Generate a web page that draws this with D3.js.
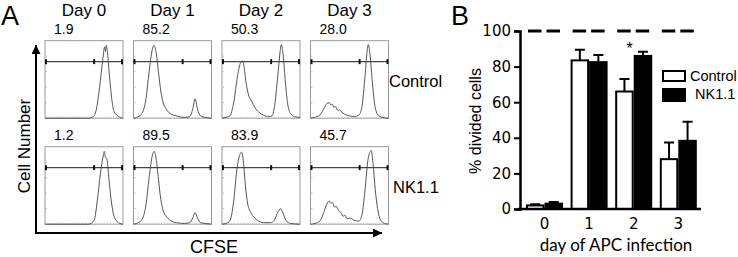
<!DOCTYPE html>
<html>
<head>
<meta charset="utf-8">
<script src="https://cdn.jsdelivr.net/npm/d3@7"></script>
<style>
  body { margin: 0; background: #fff; }
  svg { display: block; }
</style>
</head>
<body>
<div id="chart"></div>
<script>
// ---- panel A data: CFSE histograms, [x fraction, height fraction]
const dayLabels = ["Day 0", "Day 1", "Day 2", "Day 3"];
const groupLabels = ["Control", "NK1.1"];
const ctrlPct = ["1.9", "85.2", "50.3", "28.0"];
const nkPct = ["1.2", "89.5", "83.9", "45.7"];

const ctrlDay0 = [[0, 0], [0.55, 0], [0.62, 0.02], [0.66, 0.12], [0.70, 0.4], [0.74, 0.75], [0.765, 0.92], [0.775, 0.86], [0.785, 0.94], [0.80, 0.86], [0.82, 0.62], [0.85, 0.3], [0.88, 0.1], [0.92, 0.04], [0.96, 0.01], [1, 0]];
const ctrlDay1 = [[0, 0], [0.04, 0.01], [0.10, 0.05], [0.16, 0.25], [0.20, 0.6], [0.24, 0.88], [0.26, 0.94], [0.29, 0.85], [0.32, 0.6], [0.35, 0.35], [0.38, 0.2], [0.42, 0.12], [0.47, 0.06], [0.55, 0.03], [0.65, 0.01], [0.72, 0.02], [0.76, 0.12], [0.79, 0.25], [0.82, 0.12], [0.86, 0.03], [0.92, 0.01], [1, 0]];
const ctrlDay2 = [[0, 0], [0.05, 0.01], [0.10, 0.03], [0.15, 0.2], [0.20, 0.55], [0.24, 0.72], [0.26, 0.74], [0.28, 0.68], [0.31, 0.45], [0.34, 0.3], [0.38, 0.22], [0.42, 0.14], [0.47, 0.08], [0.53, 0.04], [0.60, 0.02], [0.64, 0.03], [0.68, 0.2], [0.72, 0.6], [0.75, 0.9], [0.76, 0.95], [0.78, 0.85], [0.81, 0.5], [0.84, 0.2], [0.88, 0.06], [0.93, 0.02], [1, 0.01]];
const ctrlDay3 = [[0, 0], [0.05, 0.01], [0.12, 0.04], [0.17, 0.12], [0.21, 0.19], [0.24, 0.2], [0.26, 0.17], [0.28, 0.18], [0.30, 0.14], [0.32, 0.15], [0.35, 0.1], [0.37, 0.11], [0.40, 0.08], [0.44, 0.05], [0.50, 0.03], [0.56, 0.02], [0.62, 0.04], [0.66, 0.15], [0.70, 0.55], [0.73, 0.9], [0.74, 0.95], [0.76, 0.85], [0.79, 0.5], [0.82, 0.2], [0.86, 0.05], [0.92, 0.01], [1, 0]];
const nkDay0 = [[0, 0], [0.56, 0], [0.63, 0.05], [0.67, 0.3], [0.71, 0.65], [0.75, 0.9], [0.76, 0.94], [0.775, 0.86], [0.79, 0.85], [0.80, 0.8], [0.82, 0.58], [0.85, 0.3], [0.88, 0.12], [0.92, 0.04], [0.96, 0.01], [1, 0]];
const nkDay1 = [[0, 0], [0.04, 0.01], [0.10, 0.05], [0.16, 0.25], [0.20, 0.6], [0.245, 0.9], [0.265, 0.94], [0.29, 0.85], [0.32, 0.58], [0.35, 0.32], [0.38, 0.18], [0.42, 0.1], [0.47, 0.05], [0.55, 0.02], [0.65, 0.01], [0.72, 0.02], [0.76, 0.08], [0.79, 0.15], [0.82, 0.08], [0.86, 0.02], [0.92, 0.01], [1, 0]];
const nkDay2 = [[0, 0], [0.05, 0.01], [0.10, 0.04], [0.15, 0.3], [0.19, 0.7], [0.23, 0.9], [0.25, 0.93], [0.27, 0.85], [0.30, 0.5], [0.33, 0.26], [0.37, 0.15], [0.42, 0.08], [0.47, 0.04], [0.55, 0.02], [0.62, 0.02], [0.67, 0.05], [0.71, 0.14], [0.75, 0.2], [0.78, 0.15], [0.82, 0.05], [0.88, 0.01], [1, 0]];
const nkDay3 = [[0, 0], [0.06, 0.01], [0.12, 0.04], [0.17, 0.15], [0.21, 0.26], [0.24, 0.3], [0.26, 0.27], [0.28, 0.28], [0.31, 0.22], [0.33, 0.23], [0.36, 0.18], [0.39, 0.15], [0.42, 0.1], [0.44, 0.12], [0.47, 0.07], [0.51, 0.08], [0.56, 0.05], [0.62, 0.04], [0.66, 0.12], [0.70, 0.45], [0.74, 0.85], [0.78, 0.95], [0.80, 0.8], [0.83, 0.45], [0.86, 0.2], [0.89, 0.07], [0.93, 0.02], [1, 0]];
const gateSplit = 0.63;   // middle gate tick
const gateLevel = 0.73;   // gate bar height

// ---- panel B data
const days = ["0", "1", "2", "3"];
const controlMean = [2, 83.5, 66, 28];
const controlErr = [0.6, 6, 7, 9.3];
const nkMean = [3, 82.5, 86, 38.3];
const nkErr = [1, 4, 2.3, 10.7];
const yTicks = [0, 20, 40, 60, 80, 100];
const refLevel = 100;

const W = 738, H = 257;
const svg = d3.select("#chart").append("svg")
  .attr("width", W).attr("height", H)
  .style("background", "#fff");

const sans = "'Liberation Sans', Arial, sans-serif";

// ================= PANEL A =================
svg.append("text").attr("x", 1).attr("y", 25)
  .style("font-family", sans).style("font-size", "27px").text("A");

const boxW = 78, boxH = 77.5;
const colX = d3.scaleBand().domain(dayLabels).range([45, 390.4]).paddingInner(0.097).paddingOuter(0);
const rowY = { "Control": 40.7, "NK1.1": 146.7 };
const histData = {
  "Control": [ctrlDay0, ctrlDay1, ctrlDay2, ctrlDay3],
  "NK1.1": [nkDay0, nkDay1, nkDay2, nkDay3]
};
const pctData = { "Control": ctrlPct, "NK1.1": nkPct };

// day titles
svg.selectAll(".dayTitle").data(dayLabels).enter().append("text")
  .attr("x", d => colX(d) + boxW / 2)
  .attr("y", 16)
  .attr("text-anchor", "middle")
  .style("font-family", sans).style("font-size", "17px")
  .text(d => d);

groupLabels.forEach(g => {
  dayLabels.forEach((day, i) => {
    const bx = colX(day), by = rowY[g];
    const x = d3.scaleLinear().domain([0, 1]).range([bx, bx + boxW]);
    const y = d3.scaleLinear().domain([0, 1]).range([by + boxH, by]);
    const cell = svg.append("g");

    // frame
    cell.append("rect")
      .attr("x", bx).attr("y", by).attr("width", boxW).attr("height", boxH)
      .attr("fill", "none").attr("stroke", "#9a9a9a").attr("stroke-width", 1);

    // faint minor ticks on left and bottom
    cell.selectAll(".ly").data([0.2, 0.4, 0.6, 0.8]).enter().append("line")
      .attr("x1", bx).attr("x2", bx + 2)
      .attr("y1", d => y(d)).attr("y2", d => y(d))
      .attr("stroke", "#bbb");
    cell.selectAll(".lx").data(d3.range(0.04, 1, 0.04)).enter().append("line")
      .attr("y1", by + boxH).attr("y2", by + boxH - 1.5)
      .attr("x1", d => x(d)).attr("x2", d => x(d))
      .attr("stroke", "#ccc");

    // histogram
    cell.append("path")
      .datum(histData[g][i])
      .attr("d", d3.line().x(d => x(d[0])).y(d => y(d[1])).curve(d3.curveMonotoneX))
      .attr("fill", "none").attr("stroke", "#555").attr("stroke-width", 1);

    // gate
    cell.append("line")
      .attr("x1", x(0)).attr("x2", x(1))
      .attr("y1", y(gateLevel)).attr("y2", y(gateLevel))
      .attr("stroke", "#444").attr("stroke-width", 1.2);
    cell.selectAll(".gt").data([0, gateSplit, 1]).enter().append("line")
      .attr("x1", d => x(d) + (d === 0 ? 1 : d === 1 ? -1 : 0))
      .attr("x2", d => x(d) + (d === 0 ? 1 : d === 1 ? -1 : 0))
      .attr("y1", y(gateLevel) - 2.5).attr("y2", y(gateLevel) + 2.5)
      .attr("stroke", "#111").attr("stroke-width", 2);

    // percent divided
    cell.append("text")
      .attr("x", bx + 9).attr("y", by - 6.5)
      .style("font-family", sans).style("font-size", "14px")
      .text(pctData[g][i]);
  });

  svg.append("text")
    .attr("x", g === "Control" ? 389 : 393)
    .attr("y", rowY[g] + 46)
    .style("font-family", sans).style("font-size", "16.5px")
    .text(g);
});

// axis arrows
const defs = svg.append("defs");
defs.append("marker").attr("id", "arrow")
  .attr("viewBox", "0 0 10 10").attr("refX", 10).attr("refY", 5)
  .attr("markerWidth", 5).attr("markerHeight", 4.5)
  .attr("markerUnits", "strokeWidth").attr("orient", "auto")
  .append("path").attr("d", "M0,0L10,5L0,10Z").attr("fill", "#000");

svg.append("line")
  .attr("x1", 36).attr("y1", 233).attr("x2", 36).attr("y2", 45)
  .attr("stroke", "#000").attr("stroke-width", 2).attr("marker-end", "url(#arrow)");
svg.append("line")
  .attr("x1", 35).attr("y1", 233).attr("x2", 382).attr("y2", 233)
  .attr("stroke", "#000").attr("stroke-width", 2).attr("marker-end", "url(#arrow)");

svg.append("text")
  .attr("transform", "translate(30,146) rotate(-90)")
  .attr("text-anchor", "middle")
  .style("font-family", sans).style("font-size", "17px")
  .text("Cell Number");
svg.append("text")
  .attr("x", 214).attr("y", 253)
  .attr("text-anchor", "middle")
  .style("font-family", sans).style("font-size", "18px")
  .text("CFSE");

// ================= PANEL B =================
svg.append("text").attr("x", 451).attr("y", 25)
  .style("font-family", sans).style("font-size", "27px").text("B");

const y = d3.scaleLinear().domain([0, 100]).range([209, 31]);
const x0 = d3.scaleBand().domain(days).range([522.2, 700.6]).paddingInner(0.17).paddingOuter(0.085);
const x1 = d3.scaleBand().domain(groupLabels).range([0, x0.bandwidth()]);

const bars = [];
days.forEach((d, i) => {
  bars.push({ day: d, group: "Control", v: controlMean[i], e: controlErr[i] });
  bars.push({ day: d, group: "NK1.1", v: nkMean[i], e: nkErr[i] });
});

// dashed 100% reference
svg.selectAll(".ref").data(bars).enter().append("line")
  .attr("x1", d => x0(d.day) + x1(d.group) + 2)
  .attr("x2", d => x0(d.day) + x1(d.group) + x1.bandwidth() - 3)
  .attr("y1", y(refLevel)).attr("y2", y(refLevel))
  .attr("stroke", "#000").attr("stroke-width", 3);

// error bars (upper only)
svg.selectAll(".err").data(bars).enter().append("path")
  .attr("d", d => {
    const cx = x0(d.day) + x1(d.group) + x1.bandwidth() / 2;
    return `M${cx},${y(d.v)}V${y(d.v + d.e)}M${cx - 5},${y(d.v + d.e)}H${cx + 5}`;
  })
  .attr("fill", "none").attr("stroke", "#000").attr("stroke-width", 2);

svg.selectAll(".bar").data(bars).enter().append("rect")
  .attr("x", d => x0(d.day) + x1(d.group) + 1)
  .attr("y", d => y(d.v))
  .attr("width", x1.bandwidth() - 2)
  .attr("height", d => y(0) - y(d.v))
  .attr("fill", d => d.group === "Control" ? "#fff" : "#000")
  .attr("stroke", "#000").attr("stroke-width", 2);

// axes
const yAxis = svg.append("g")
  .attr("transform", "translate(520,0)")
  .call(d3.axisLeft(y).tickValues(yTicks).tickSize(6).tickPadding(3));
yAxis.select(".domain").attr("stroke-width", 2.5);
yAxis.selectAll(".tick line").attr("stroke-width", 2);
yAxis.selectAll("text")
  .style("font-family", "'DejaVu Sans', sans-serif").style("font-size", "15px");

const xAxis = svg.append("g")
  .attr("transform", "translate(0,209)")
  .call(d3.axisBottom(x0).tickSize(0).tickPadding(9).tickSizeOuter(0));
xAxis.select(".domain").attr("d", "M518,0H701").attr("stroke-width", 2.5);
xAxis.selectAll("text")
  .style("font-family", "'DejaVu Sans', sans-serif").style("font-size", "15px");

// asterisk for day 2
svg.append("text")
  .attr("x", x0("2") + x0.bandwidth() / 2 - 4).attr("y", 54)
  .attr("text-anchor", "middle")
  .style("font-family", sans).style("font-size", "16px")
  .text("*");

svg.append("text")
  .attr("transform", "translate(481,121) rotate(-90)")
  .attr("text-anchor", "middle")
  .style("font-family", sans).style("font-size", "16px")
  .text("% divided cells");
svg.append("text")
  .attr("x", 616).attr("y", 251)
  .attr("text-anchor", "middle")
  .style("font-family", "Lato, sans-serif").style("font-size", "17px")
  .text("day of APC infection");

// legend
const legend = svg.append("g");
groupLabels.forEach((g, i) => {
  legend.append("rect")
    .attr("x", 663).attr("y", 71 + i * 18).attr("width", 22).attr("height", i ? 12 : 10)
    .attr("fill", i ? "#000" : "#fff").attr("stroke", "#000").attr("stroke-width", 2);
  legend.append("text")
    .attr("x", i ? 695 : 690).attr("y", 81 + i * 18)
    .style("font-family", sans).style("font-size", "14.5px")
    .text(g);
});
</script>
</body>
</html>
